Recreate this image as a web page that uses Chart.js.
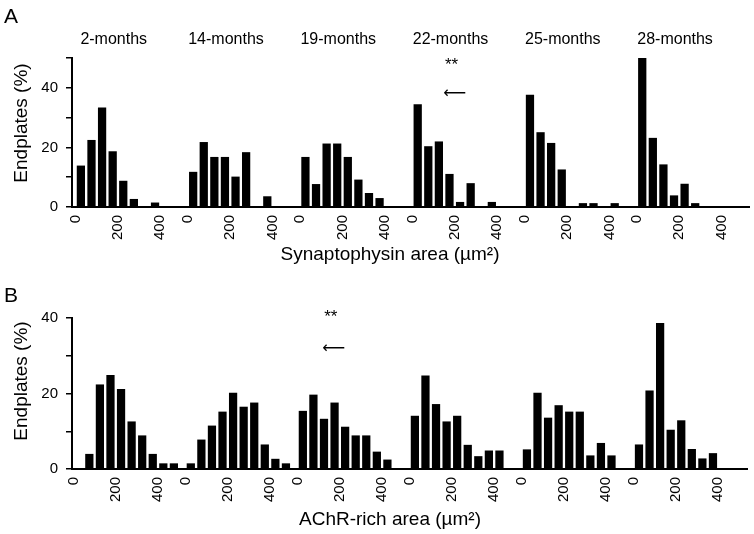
<!DOCTYPE html>
<html lang="en">
<head>
    <meta charset="UTF-8">
    <title>Endplate area histograms</title>
    <script src="https://cdn.jsdelivr.net/npm/chart.js"></script>
    <style>
        html, body { margin: 0; padding: 0; background: #fff; }
        .panel { position: absolute; left: 0; width: 754px; }
        #panelA { top: 0; height: 270px; }
        #panelB { top: 270px; height: 264px; }
    </style>
</head>
<body>
    <!-- Panel A: synaptophysin -->
    <div class="panel" id="panelA"><canvas id="synGrafik"></canvas></div>
    <!-- Panel B: AChR -->
    <div class="panel" id="panelB"><canvas id="achrGrafik"></canvas></div>

    <script>
        // age groups, one histogram block each
        const ageGroups = ['2-months', '14-months', '19-months', '22-months', '25-months', '28-months'];
        const xTickLabels = [0, 200, 400];
        const yTicksA = [0, 20, 40];
        const yTicksB = [0, 20, 40];
        const binWidth = 50; // µm², bins start at 0

        // A - Synaptophysin area, % of endplates per bin
        const syn2m  = [13.9, 22.5, 33.4, 18.7, 8.8, 2.7, 0, 1.5];
        const syn14m = [11.8, 21.8, 16.8, 16.8, 10.2, 18.4, 0, 3.6];
        const syn19m = [16.8, 7.7, 21.3, 21.3, 16.8, 9.2, 4.7, 3.0];
        const syn22m = [34.5, 20.4, 22.0, 11.1, 1.7, 8.0, 0, 1.7];
        const syn25m = [37.7, 25.1, 21.5, 12.6, 0, 1.3, 1.3, 0, 1.3];
        const syn28m = [50.0, 23.2, 14.3, 3.9, 7.8, 1.3];

        // B - AChR-rich area, % of endplates per bin
        const achr2m  = [0, 4.0, 22.4, 24.9, 21.2, 12.6, 8.9, 4.0, 1.5, 1.5];
        const achr14m = [1.5, 7.8, 11.5, 15.2, 20.2, 16.5, 17.6, 6.5, 2.7, 1.5];
        const achr19m = [15.4, 19.7, 13.3, 17.6, 11.2, 8.9, 8.9, 4.6, 2.5];
        const achr22m = [14.1, 24.8, 17.2, 12.6, 14.1, 6.4, 3.4, 4.9, 4.9];
        const achr25m = [5.2, 20.2, 13.6, 16.9, 15.2, 15.2, 3.6, 6.9, 3.6];
        const achr28m = [6.5, 20.8, 38.7, 10.4, 12.9, 5.3, 2.8, 4.2];

        const synGroups = [syn2m, syn14m, syn19m, syn22m, syn25m, syn28m];
        const achrGroups = [achr2m, achr14m, achr19m, achr22m, achr25m, achr28m];

        // each age block takes this much room on the shared x axis
        const GROUP_SPAN = 530;

        Chart.defaults.font.family = "'Liberation Sans', Arial, sans-serif";
        Chart.defaults.color = '#000';

        function toPoints(groups) {
            const pts = [];
            groups.forEach((vals, g) => {
                vals.forEach((v, i) => {
                    pts.push({ x: g * GROUP_SPAN + i * binWidth + binWidth / 2, y: v });
                });
            });
            return pts;
        }

        // free text: panel letter, age titles, axis titles, ** and arrow
        function textPlugin(cfg) {
            return {
                id: 'texts',
                afterDraw(chart) {
                    const ctx = chart.ctx;
                    const xs = chart.scales.x;
                    ctx.save();
                    ctx.fillStyle = '#000';

                    ctx.font = "21px 'Liberation Sans', Arial, sans-serif";
                    ctx.textAlign = 'left';
                    ctx.textBaseline = 'alphabetic';
                    ctx.fillText(cfg.letter, 4, cfg.letterY);

                    ctx.textAlign = 'center';
                    ctx.textBaseline = 'middle';
                    if (cfg.showTitles) {
                        ctx.font = "16px 'Liberation Sans', Arial, sans-serif";
                        ageGroups.forEach((name, g) => {
                            ctx.fillText(name, xs.getPixelForValue(g * GROUP_SPAN + 180), 40);
                        });
                    }

                    // significance mark
                    const sx = xs.getPixelForValue(cfg.starGroup * GROUP_SPAN + cfg.starOffset);
                    ctx.font = "17px 'Liberation Sans', Arial, sans-serif";
                    ctx.fillText('**', sx, cfg.starY);
                    ctx.font = "16px 'DejaVu Sans', sans-serif";
                    ctx.fillText('\u27F5', sx + 3, cfg.arrowY);

                    ctx.font = "19px 'Liberation Sans', Arial, sans-serif";
                    ctx.fillText(cfg.xTitle, 390, cfg.xTitleY);

                    ctx.translate(22, cfg.yTitleY);
                    ctx.rotate(-Math.PI / 2);
                    ctx.fillText('Endplates (%)', 0, 0);
                    ctx.restore();
                }
            };
        }

        function makeChart(canvasId, groups, opt) {
            const ctx = document.getElementById(canvasId).getContext('2d');
            return new Chart(ctx, {
                type: 'bar',
                data: {
                    datasets: [{
                        data: toPoints(groups),
                        backgroundColor: '#000',
                        borderWidth: 0,
                        barPercentage: 0.78,
                        categoryPercentage: 1
                    }]
                },
                options: {
                    responsive: true,
                    maintainAspectRatio: false,
                    animation: false,
                    layout: { padding: { top: opt.padTop, right: opt.padRight, left: 0, bottom: 0 } },
                    plugins: { legend: { display: false }, tooltip: { enabled: false } },
                    scales: {
                        x: {
                            type: 'linear',
                            offset: false,
                            min: opt.xMin,
                            max: opt.xMax,
                            bounds: 'data',
                            grid: { display: false, drawTicks: false, offset: false },
                            border: { display: true, color: '#000', width: 2 },
                            afterBuildTicks: (scale) => {
                                scale.ticks = [];
                                ageGroups.forEach((_, g) => {
                                    xTickLabels.forEach(t => scale.ticks.push({ value: g * GROUP_SPAN + t }));
                                });
                            },
                            afterFit: (scale) => { scale.height = opt.xAxisH; },
                            ticks: {
                                autoSkip: false,
                                minRotation: 90,
                                maxRotation: 90,
                                padding: 8,
                                font: { size: 15 },
                                callback: (value, index) => String(xTickLabels[index % xTickLabels.length])
                            }
                        },
                        y: {
                            min: 0,
                            max: opt.yMax,
                            grid: { display: true, drawOnChartArea: false, drawTicks: true, tickLength: 6, color: '#000', lineWidth: 1.5 },
                            border: { display: true, color: '#000', width: 2 },
                            afterFit: (scale) => { scale.width = 72; },
                            ticks: {
                                stepSize: 10,
                                padding: 8,
                                font: { size: 15 },
                                callback: (v) => opt.yLabels.includes(v) ? String(v) : ''
                            }
                        }
                    }
                },
                plugins: [textPlugin(opt.text)]
            });
        }

        makeChart('synGrafik', synGroups, {
            padTop: 58, padRight: 5, xAxisH: 63, xMin: -17, xMax: 3179, yMax: 50, yLabels: yTicksA,
            text: {
                letter: 'A', letterY: 23, showTitles: true,
                starGroup: 3, starOffset: 185, starY: 65, arrowY: 94,
                xTitle: 'Synaptophysin area (\u00b5m\u00b2)', xTitleY: 255, yTitleY: 123
            }
        });

        makeChart('achrGrafik', achrGroups, {
            padTop: 48, padRight: 7, xAxisH: 65, xMin: -7, xMax: 3186, yMax: 40, yLabels: yTicksB,
            text: {
                letter: 'B', letterY: 32, showTitles: false,
                starGroup: 2, starOffset: 157, starY: 47, arrowY: 79,
                xTitle: 'AChR-rich area (\u00b5m\u00b2)', xTitleY: 250, yTitleY: 111
            }
        });
    </script>
</body>
</html>
